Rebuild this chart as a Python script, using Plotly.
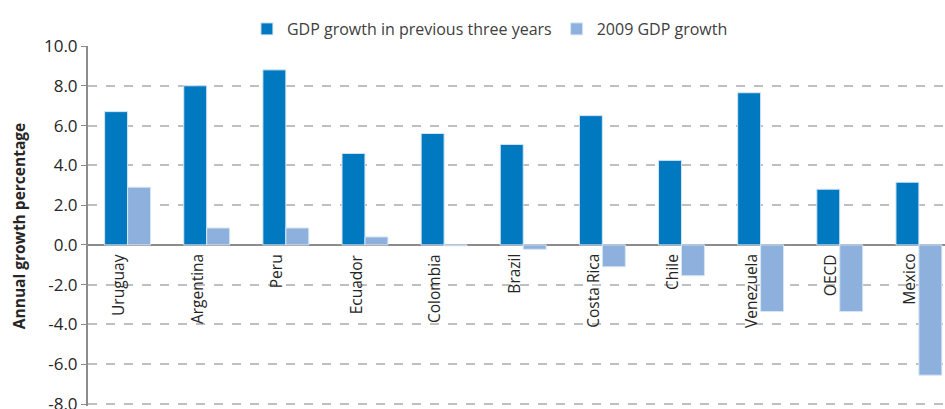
import plotly.graph_objects as go

countries = ["Uruguay", "Argentina", "Peru", "Ecuador", "Colombia", "Brazil",
             "Costa Rica", "Chile", "Venezuela", "OECD", "Mexico"]
prev3 = [6.7, 8.0, 8.8, 4.6, 5.6, 5.05, 6.5, 4.25, 7.65, 2.8, 3.15]
g2009 = [2.9, 0.85, 0.85, 0.4, -0.05, -0.22, -1.1, -1.55, -3.35, -3.35, -6.55]
yticks = [10, 8, 6, 4, 2, 0, -2, -4, -6, -8]
yticklabels = ["10.0", "8.0", "6.0", "4.0", "2.0", "0.0", "-2.0", "-4.0", "-6.0", "-8.0"]

DARK = "#0079C1"
LIGHT = "#8DB0DD"
FONT = "Open Sans"

xs = list(range(len(countries)))

fig = go.Figure()
fig.add_trace(go.Bar(x=xs, y=prev3, name="GDP growth in previous three years",
                     marker=dict(color=DARK, line=dict(color="#d6e6f4", width=1))))
fig.add_trace(go.Bar(x=xs, y=g2009, name="2009 GDP growth",
                     marker=dict(color=LIGHT, line=dict(color="#d6e6f4", width=1))))

for i, c in enumerate(countries):
    fig.add_annotation(x=i - 0.12, y=0, text=c, textangle=-90, showarrow=False,
                       xanchor="center", yanchor="top", yshift=-7,
                       font=dict(family=FONT, size=15.5, color="#262626"))

fig.update_layout(
    width=945, height=409,
    margin=dict(l=88, r=0, t=46, b=3, autoexpand=False),
    paper_bgcolor="white", plot_bgcolor="white",
    barmode="group", bargap=0.42, bargroupgap=0,
    font=dict(family=FONT, size=16, color="#404040"),
    legend=dict(orientation="h", x=0.469, xanchor="center", y=1.0, yanchor="bottom",
                font=dict(family=FONT, size=16, color="#404040"),
                itemwidth=30, traceorder="normal", bgcolor="rgba(0,0,0,0)"),
    xaxis=dict(range=[-0.5, 10.33], showticklabels=False, showgrid=False,
               zeroline=False, showline=False, ticks=""),
    yaxis=dict(range=[-8.1, 10], tickvals=yticks, ticktext=yticklabels,
               ticklabeloverflow="allow",
               showgrid=True, gridcolor="#BFBFBF", griddash="dash", gridwidth=1.5,
               zeroline=True, zerolinecolor="#8C8C8C", zerolinewidth=2,
               showline=True, linecolor="#8C8C8C", linewidth=2,
               ticks="outside", ticklen=5, tickcolor="#8C8C8C", tickwidth=1,
               tickfont=dict(family=FONT, size=17, color="#262626"),
               title=dict(text="<b>Annual growth percentage</b>", standoff=15,
                          font=dict(family=FONT, size=15.5, color="#262626")),
               automargin=False),
)

fig.write_html("out.html")
